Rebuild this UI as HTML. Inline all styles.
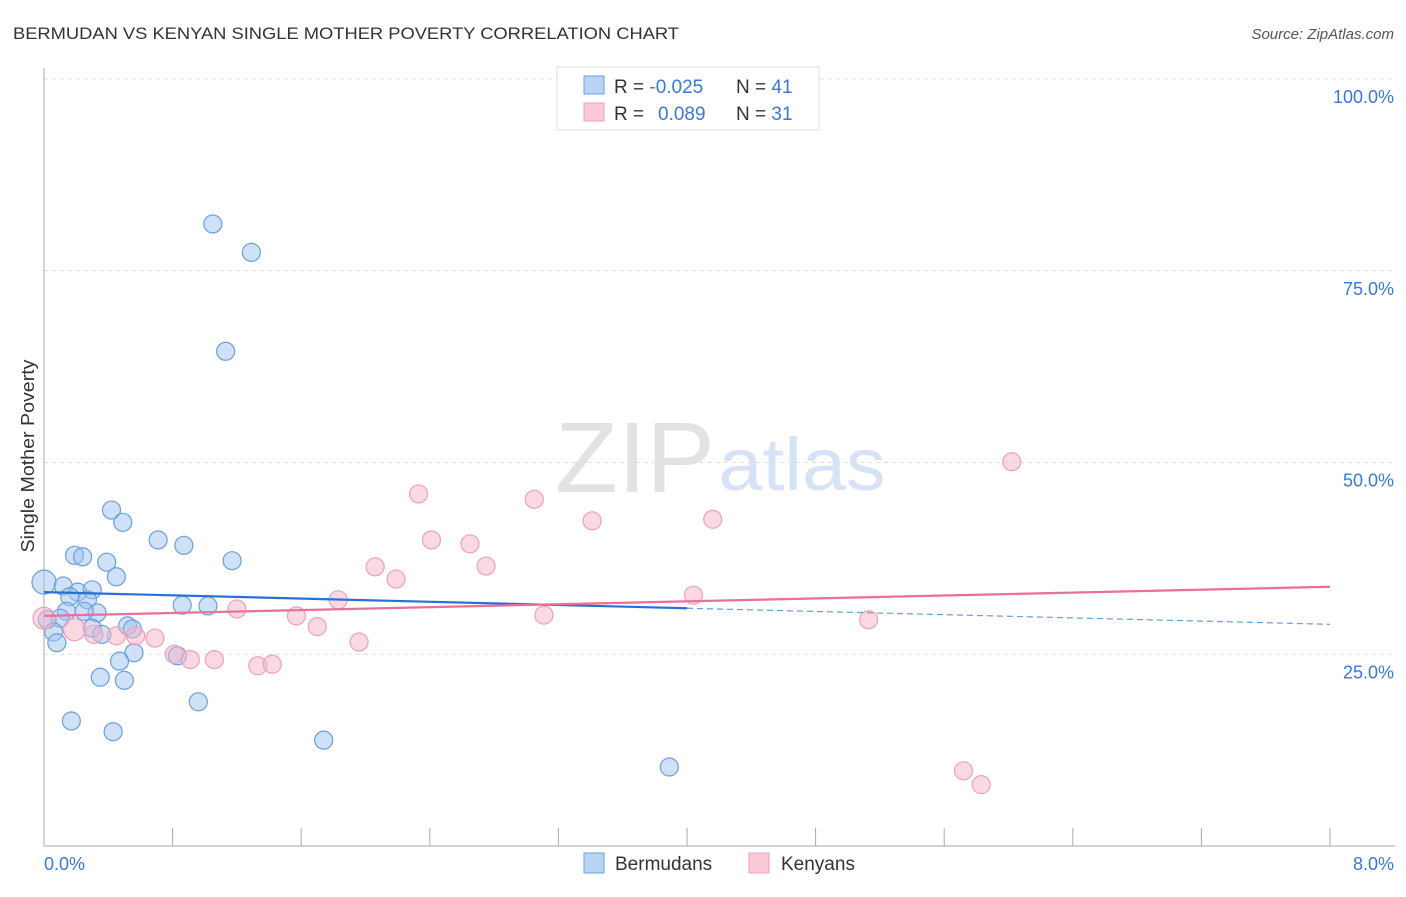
<!DOCTYPE html>
<html><head><meta charset="utf-8"><style>
body{margin:0;background:#fff;font-family:"Liberation Sans",sans-serif;}
svg text{font-family:"Liberation Sans",sans-serif;}
</style></head><body>
<svg width="1406" height="892" xmlns="http://www.w3.org/2000/svg">
<text x="13" y="39" font-size="17" fill="#333" textLength="666" lengthAdjust="spacingAndGlyphs">BERMUDAN VS KENYAN SINGLE MOTHER POVERTY CORRELATION CHART</text>
<text x="1394" y="39" font-size="15" fill="#555" text-anchor="end" font-style="italic">Source: ZipAtlas.com</text>
<g id="grid"></g>
<text x="635" y="492" font-size="100" fill="#e2e2e2" font-family="Liberation Serif" text-anchor="middle" textLength="160" lengthAdjust="spacingAndGlyphs">ZIP</text>
<text x="802" y="490" font-size="74" fill="#d5e3f5" text-anchor="middle" textLength="167" lengthAdjust="spacingAndGlyphs">atlas</text>
<g id="pts"></g>
<g id="lines"></g>
<text x="34" y="456" font-size="18.5" fill="#333" text-anchor="middle" transform="rotate(-90 34 456)" textLength="193" lengthAdjust="spacingAndGlyphs">Single Mother Poverty</text>
<text x="44" y="870" font-size="18" fill="#3a78d8">0.0%</text>
<text x="1394" y="870" font-size="18" fill="#3a78d8" text-anchor="end">8.0%</text>
<g>
<rect x="557" y="67" width="262" height="63" fill="#fff" stroke="#ddd"/>
<rect x="584" y="76" width="20" height="18" fill="#b8d4f5" stroke="#6a9fe0"/>
<rect x="584" y="103" width="20" height="18" fill="#fbc8d6" stroke="#f0a0b8"/>
<text x="614" y="93" font-size="19" fill="#333">R = <tspan fill="#3a78d8">-0.025</tspan><tspan x="736">N = </tspan><tspan fill="#3a78d8">41</tspan></text>
<text x="614" y="120" font-size="19" fill="#333">R = <tspan x="658" fill="#3a78d8">0.089</tspan><tspan x="736">N = </tspan><tspan fill="#3a78d8">31</tspan></text>
</g>
<g>
<rect x="584" y="853" width="20" height="20" fill="#b8d4f5" stroke="#6a9fe0"/>
<text x="615" y="870" font-size="19" fill="#333">Bermudans</text>
<rect x="749" y="853" width="20" height="20" fill="#fbc8d6" stroke="#f0a0b8"/>
<text x="781" y="870" font-size="19" fill="#333">Kenyans</text>
</g>
</svg>
<script>
const yTicks=[25,50,75,100];
const yTickLabels=["25.0%","50.0%","75.0%","100.0%"];
const blueX=[1.05,1.29,1.13,0.42,0.49,0.71,0.87,0.19,0.24,0.39,1.17,0.45,0.0,0.12,0.21,0.30,0.27,0.16,0.86,1.02,0.33,0.14,0.02,0.10,0.06,0.08,0.30,0.36,0.52,0.55,0.56,0.83,0.47,0.35,0.50,0.96,0.17,0.43,1.74,3.89,0.25];
const blueY=[81.1,77.4,64.5,43.8,42.2,39.9,39.2,37.9,37.7,37.0,37.2,35.1,34.4,33.9,33.1,33.4,32.1,32.5,31.4,31.3,30.4,30.6,29.5,29.7,27.9,26.5,28.4,27.6,28.7,28.3,25.2,24.8,24.1,22.0,21.6,18.8,16.3,14.9,13.8,10.3,30.6];
const pinkX=[2.33,3.05,3.41,4.16,6.02,2.41,2.65,2.75,2.06,2.19,1.83,1.20,1.57,1.70,3.11,4.04,5.13,0.0,0.19,0.31,0.45,0.57,0.69,0.81,0.91,1.06,1.33,1.42,1.96,5.72,5.83];
const pinkY=[45.9,45.2,42.4,42.6,50.1,39.9,39.4,36.5,36.4,34.8,32.1,30.9,30.0,28.6,30.1,32.7,29.5,29.7,28.2,27.6,27.4,27.4,27.1,25.0,24.3,24.3,23.5,23.7,26.6,9.8,8.0];
const blueTrend=[33.1,28.9];
const pinkTrend=[30.0,33.8];
const NS="http://www.w3.org/2000/svg";
const sx=v=>44+v/8*1286;
const sy=v=>846-v/100*767;
function mk(t,a,p){const e=document.createElementNS(NS,t);for(const k in a)e.setAttribute(k,a[k]);p.appendChild(e);return e;}
const grid=document.getElementById('grid');
yTicks.forEach((t,i)=>{
 const l=mk('line',{x1:44,x2:1395,y1:sy(t),y2:sy(t),stroke:'#ddd','stroke-dasharray':'4,4'},grid);
 
 
 const tx=mk('text',{x:1394,y:sy(t)+24,'font-size':18,fill:'#3a78d8','text-anchor':'end'},grid);
 tx.textContent=yTickLabels[i];
 
 
});
const ax=mk('line',{x1:44,x2:1395,y1:846,y2:846,stroke:'#aaa'},grid);


const ay=mk('line',{x1:44,x2:44,y1:68,y2:846,stroke:'#aaa'},grid);


for(let i=1;i<=10;i++){const v=i*0.8;
 const t=mk('line',{x1:sx(v),x2:sx(v),y1:828,y2:846,stroke:'#aaa'},grid);
 
 
}
const pts=document.getElementById('pts');
blueX.forEach((x,i)=>{
 const c=mk('circle',{cx:sx(x),cy:sy(blueY[i]),r:i===12?12:9,fill:'rgba(160,196,240,0.5)',stroke:'#6a9fe0','stroke-width':1.2},pts);
 
 
});
pinkX.forEach((x,i)=>{
 const c=mk('circle',{cx:sx(x),cy:sy(pinkY[i]),r:(i===17||i===18)?11:9,fill:'rgba(248,180,200,0.5)',stroke:'#f0a0b8','stroke-width':1.2},pts);
 
 
});
const lines=document.getElementById('lines');
const bAt=v=>blueTrend[0]+(blueTrend[1]-blueTrend[0])*v/8;
const b1=mk('line',{x1:sx(0),y1:sy(bAt(0)),x2:sx(4),y2:sy(bAt(4)),stroke:'#2a6fd6','stroke-width':2.2},lines);


const b2=mk('line',{x1:sx(4),y1:sy(bAt(4)),x2:sx(8),y2:sy(bAt(8)),stroke:'#6a9fe0','stroke-width':1.2,'stroke-dasharray':'6,4'},lines);


const p1=mk('line',{x1:sx(0),y1:sy(pinkTrend[0]),x2:sx(8),y2:sy(pinkTrend[1]),stroke:'#e8709a','stroke-width':2.2},lines);


</script>
</body></html>
